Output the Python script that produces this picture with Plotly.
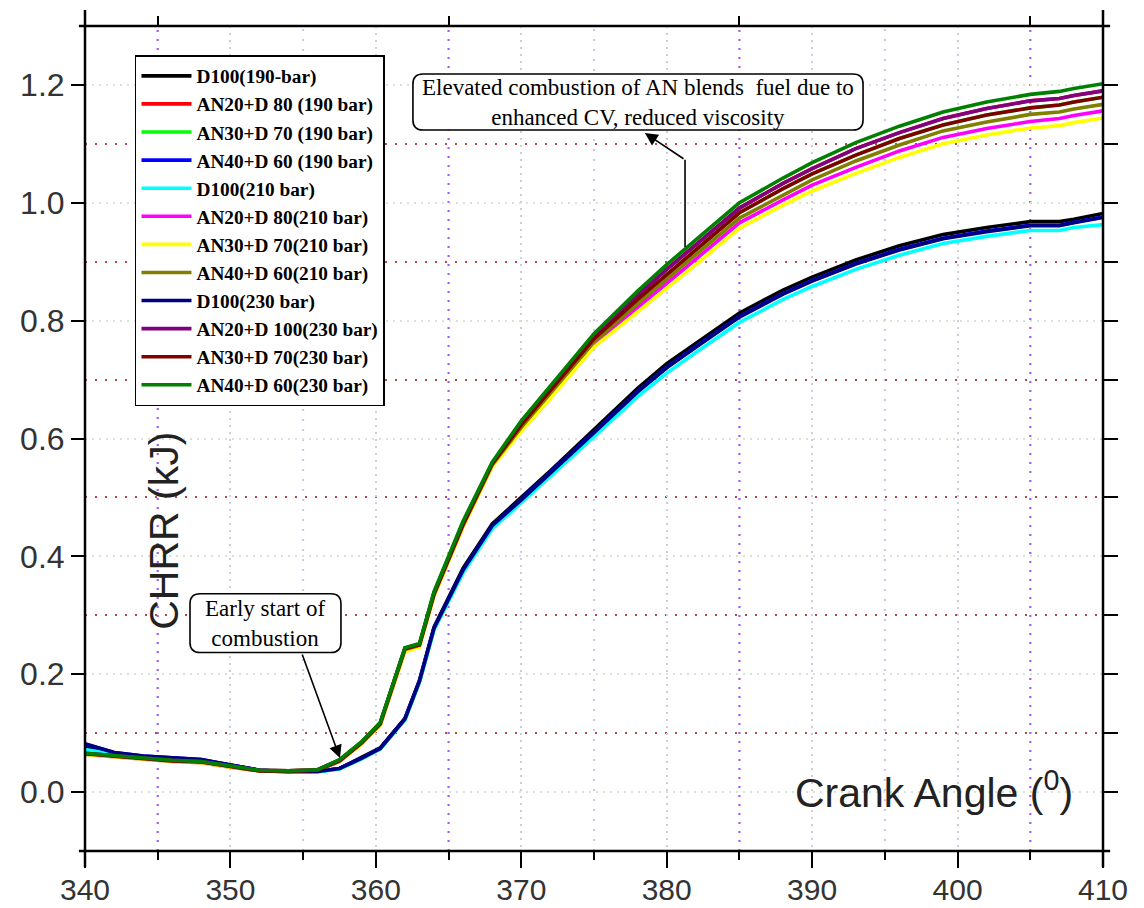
import plotly.graph_objects as go

# ---------------- data ----------------
crank_angle = [340, 342, 344, 346, 348, 350, 352, 354, 356, 357.5, 359, 360.3, 362, 363, 364, 366, 368,
               370, 372, 375, 378, 380, 382, 385, 388, 390, 393, 396, 399, 402, 405, 407, 408, 410]

d100_190 = [0.078, 0.066, 0.060, 0.057, 0.054, 0.046, 0.037, 0.035, 0.035, 0.040, 0.058, 0.075, 0.125, 0.190,
            0.280, 0.380, 0.455, 0.500, 0.545, 0.615, 0.685, 0.727, 0.762, 0.813, 0.852, 0.874, 0.903, 0.927,
            0.946, 0.958, 0.968, 0.968, 0.972, 0.982]
an20_190 = [0.066, 0.062, 0.057, 0.054, 0.052, 0.044, 0.037, 0.036, 0.038, 0.054, 0.084, 0.117, 0.244, 0.251,
            0.338, 0.457, 0.558, 0.626, 0.686, 0.773, 0.843, 0.887, 0.929, 0.991, 1.033, 1.058, 1.092, 1.119,
            1.143, 1.160, 1.173, 1.177, 1.182, 1.190]
an30_190 = [0.065, 0.061, 0.056, 0.053, 0.051, 0.043, 0.036, 0.035, 0.037, 0.053, 0.083, 0.116, 0.243, 0.250,
            0.336, 0.454, 0.557, 0.623, 0.681, 0.769, 0.836, 0.879, 0.920, 0.983, 1.024, 1.049, 1.081, 1.109,
            1.132, 1.149, 1.161, 1.166, 1.171, 1.179]
an40_190 = [0.081, 0.067, 0.061, 0.058, 0.055, 0.046, 0.037, 0.035, 0.035, 0.040, 0.057, 0.074, 0.124, 0.188,
            0.278, 0.377, 0.452, 0.497, 0.542, 0.611, 0.680, 0.721, 0.756, 0.807, 0.846, 0.868, 0.897, 0.921,
            0.940, 0.952, 0.962, 0.962, 0.967, 0.976]
d100_210 = [0.072, 0.064, 0.058, 0.055, 0.052, 0.044, 0.036, 0.034, 0.034, 0.039, 0.056, 0.073, 0.122, 0.186,
            0.275, 0.372, 0.447, 0.491, 0.535, 0.603, 0.671, 0.711, 0.746, 0.797, 0.836, 0.858, 0.887, 0.911,
            0.931, 0.943, 0.953, 0.953, 0.958, 0.963]
an20_210 = [0.064, 0.060, 0.055, 0.052, 0.050, 0.042, 0.036, 0.035, 0.037, 0.052, 0.082, 0.114, 0.240, 0.248,
            0.334, 0.452, 0.554, 0.616, 0.672, 0.760, 0.822, 0.863, 0.903, 0.966, 1.005, 1.030, 1.060, 1.088,
            1.111, 1.126, 1.138, 1.143, 1.148, 1.156]
an30_210 = [0.064, 0.060, 0.055, 0.052, 0.050, 0.042, 0.036, 0.035, 0.037, 0.052, 0.081, 0.113, 0.238, 0.246,
            0.332, 0.450, 0.552, 0.612, 0.668, 0.755, 0.815, 0.855, 0.895, 0.957, 0.996, 1.020, 1.050, 1.077,
            1.100, 1.115, 1.127, 1.131, 1.136, 1.144]
an40_210 = [0.065, 0.061, 0.056, 0.053, 0.051, 0.043, 0.036, 0.035, 0.037, 0.053, 0.083, 0.115, 0.242, 0.249,
            0.335, 0.453, 0.555, 0.619, 0.677, 0.764, 0.829, 0.871, 0.912, 0.974, 1.014, 1.039, 1.071, 1.098,
            1.122, 1.137, 1.150, 1.154, 1.159, 1.167]
d100_230 = [0.082, 0.067, 0.061, 0.058, 0.055, 0.046, 0.037, 0.035, 0.035, 0.040, 0.057, 0.074, 0.124, 0.188,
            0.278, 0.377, 0.452, 0.496, 0.541, 0.610, 0.679, 0.720, 0.755, 0.806, 0.845, 0.867, 0.896, 0.920,
            0.939, 0.951, 0.961, 0.961, 0.966, 0.975]
an20_230 = [0.066, 0.062, 0.057, 0.054, 0.052, 0.044, 0.037, 0.036, 0.038, 0.054, 0.084, 0.117, 0.244, 0.251,
            0.338, 0.457, 0.558, 0.626, 0.686, 0.773, 0.843, 0.887, 0.929, 0.991, 1.033, 1.058, 1.092, 1.119,
            1.143, 1.160, 1.173, 1.177, 1.182, 1.190]
an30_230 = [0.065, 0.061, 0.056, 0.053, 0.051, 0.043, 0.036, 0.035, 0.037, 0.053, 0.083, 0.116, 0.243, 0.250,
            0.336, 0.454, 0.557, 0.623, 0.681, 0.769, 0.836, 0.879, 0.920, 0.983, 1.024, 1.049, 1.081, 1.109,
            1.132, 1.149, 1.161, 1.166, 1.171, 1.179]
an40_230 = [0.066, 0.062, 0.057, 0.054, 0.052, 0.044, 0.037, 0.036, 0.038, 0.055, 0.085, 0.118, 0.245, 0.252,
            0.340, 0.460, 0.560, 0.630, 0.690, 0.778, 0.850, 0.895, 0.937, 1.000, 1.042, 1.068, 1.102, 1.130,
            1.154, 1.171, 1.184, 1.189, 1.194, 1.202]

series_names = ["D100(190-bar)", "AN20+D 80 (190 bar)", "AN30+D 70 (190 bar)", "AN40+D 60 (190 bar)",
                "D100(210 bar)", "AN20+D 80(210 bar)", "AN30+D 70(210 bar)", "AN40+D 60(210 bar)",
                "D100(230 bar)", "AN20+D 100(230 bar)", "AN30+D 70(230 bar)", "AN40+D 60(230 bar)"]
series_values = [d100_190, an20_190, an30_190, an40_190, d100_210, an20_210, an30_210, an40_210,
                 d100_230, an20_230, an30_230, an40_230]
series_colors = ["#000000", "#ff0000", "#00ff00", "#0000ff", "#00ffff", "#ff00ff", "#ffff00", "#808000",
                 "#000080", "#800080", "#800000", "#008000"]

x_ticks = [340, 350, 360, 370, 380, 390, 400, 410]
x_minor_ticks = [345, 355, 365, 375, 385, 395, 405]
y_ticks = [0.0, 0.2, 0.4, 0.6, 0.8, 1.0, 1.2]
y_ticklabels = ["0.0", "0.2", "0.4", "0.6", "0.8", "1.0", "1.2"]
y_minor_ticks = [0.1, 0.3, 0.5, 0.7, 0.9, 1.1]
y_right_ticks = [0.0, 0.1, 0.2, 0.3, 0.4, 0.5, 0.6, 0.7, 0.8, 0.9, 1.0, 1.1, 1.2]

# ---------------- figure ----------------
fig = go.Figure()

# vertical dotted grid (purple strong / faint)
for xv in [345, 365, 385, 405]:
    fig.add_shape(type="line", xref="x", yref="paper", x0=xv, x1=xv, y0=0, y1=1, layer="below",
                  line=dict(color="#a35cf5", width=2.2, dash="2px,7px"))
for xv in [355, 375, 395]:
    fig.add_shape(type="line", xref="x", yref="paper", x0=xv, x1=xv, y0=0, y1=1, layer="below",
                  line=dict(color="#cfc0f2", width=2, dash="2px,8px"))

for name, vals, col in zip(series_names, series_values, series_colors):
    fig.add_trace(go.Scatter(x=crank_angle, y=vals, mode="lines", name=name,
                             line=dict(color=col, width=3.6)))

# helper trace for secondary axes (top / right ticks)
fig.add_trace(go.Scatter(x=[340], y=[-0.1], xaxis="x2", yaxis="y2", mode="markers",
                         marker=dict(opacity=0), showlegend=False, hoverinfo="skip"))

fig.update_layout(
    width=1144, height=908,
    margin=dict(l=85, r=41, t=26, b=57, autoexpand=False),
    plot_bgcolor="white", paper_bgcolor="white",
    xaxis=dict(range=[340, 410], tickvals=x_ticks, ticks="outside", ticklen=16, tickwidth=2,
               tickcolor="black", showline=False, zeroline=False, automargin=False,
               ticklabelstandoff=-4,
               showgrid=True, gridcolor="#cdcddd", griddash="2px,5px", gridwidth=1.5,
               tickfont=dict(family="Liberation Sans, Arial", size=30, color="#333333"),
               minor=dict(tickvals=x_minor_ticks, ticks="outside", ticklen=8,
                          tickwidth=2, tickcolor="black", showgrid=False)),
    yaxis=dict(range=[-0.1, 1.3], tickvals=y_ticks, ticktext=y_ticklabels, ticks="outside", ticklen=13,
               tickwidth=2, tickcolor="black", showline=False, zeroline=False, automargin=False,
               showgrid=True, gridcolor="#d6e4d6", griddash="2px,5px", gridwidth=1.5,
               tickfont=dict(family="Liberation Sans, Arial", size=32, color="#333333"),
               minor=dict(tickvals=y_minor_ticks, ticks="", showgrid=True,
                          gridcolor="#b04a50", griddash="2px,8px", gridwidth=2.2)),
    xaxis2=dict(range=[340, 410], overlaying="x", side="top", anchor="y2", automargin=False,
                tickvals=[345, 365, 385, 405], ticks="outside", ticklen=9, tickwidth=2,
                tickcolor="black", showticklabels=False, showgrid=False, zeroline=False, showline=False),
    yaxis2=dict(range=[-0.1, 1.3], overlaying="y", side="right", anchor="x2", automargin=False,
                tickvals=y_right_ticks,
                ticks="outside", ticklen=14, tickwidth=2, tickcolor="black",
                showticklabels=False, showgrid=False, zeroline=False, showline=False),
    legend=dict(x=0.0491, y=0.9645, xanchor="left", yanchor="top", bgcolor="white",
                bordercolor="black", borderwidth=1.5, itemwidth=50, tracegroupgap=0,
                font=dict(family="Liberation Serif, Times New Roman", size=19.3, color="black",
                          weight="bold")),
    showlegend=True,
)

# frame with crossing corners
lw = 2.5
fig.add_shape(type="line", xref="paper", yref="paper", x0=0, x1=0, y0=-0.0194, y1=1.0194,
              line=dict(color="black", width=lw))
fig.add_shape(type="line", xref="paper", yref="paper", x0=1, x1=1, y0=-0.0194, y1=1.0194,
              line=dict(color="black", width=lw))
fig.add_shape(type="line", xref="paper", yref="paper", x0=-0.006, x1=1.007, y0=0, y1=0,
              line=dict(color="black", width=lw))
fig.add_shape(type="line", xref="paper", yref="paper", x0=-0.006, x1=1.007, y0=1, y1=1,
              line=dict(color="black", width=lw))


def rounded_box(x0, x1, y0, y1, rx, ry):
    return (f"M {x0+rx},{y0} L {x1-rx},{y0} Q {x1},{y0} {x1},{y0+ry} L {x1},{y1-ry} "
            f"Q {x1},{y1} {x1-rx},{y1} L {x0+rx},{y1} Q {x0},{y1} {x0},{y1-ry} "
            f"L {x0},{y0+ry} Q {x0},{y0} {x0+rx},{y0} Z")


rx, ry = 0.69, 0.017
fig.add_shape(type="path", xref="x", yref="y", path=rounded_box(362.55, 393.50, 1.1235, 1.2186, rx, ry),
              line=dict(color="black", width=1.6), fillcolor="white", layer="above")
fig.add_shape(type="path", xref="x", yref="y", path=rounded_box(347.22, 357.6, 0.2369, 0.3366, rx, ry),
              line=dict(color="black", width=1.6), fillcolor="white", layer="above")

ann_font = dict(family="Liberation Serif, Times New Roman", size=23, color="black")
fig.add_annotation(x=378.02, y=1.171, xref="x", yref="y", xanchor="center", yanchor="middle",
                   showarrow=False, font=ann_font,
                   text="Elevated combustion of AN blends  fuel due to<br>enhanced CV, reduced viscosity")
fig.add_annotation(x=352.4, y=0.2855, xref="x", yref="y", xanchor="center", yanchor="middle",
                   showarrow=False, font=ann_font,
                   text="Early start of<br>combustion")

# arrows
fig.add_shape(type="line", xref="x", yref="y", x0=381.26, x1=381.26, y0=0.925, y1=1.073,
              line=dict(color="black", width=1.6), layer="above")
fig.add_annotation(x=378.5, y=1.1184, ax=381.26, ay=1.073, xref="x", yref="y", axref="x", ayref="y",
                   text="", showarrow=True, arrowhead=2, arrowsize=1.6, arrowwidth=1.6, arrowcolor="black")
fig.add_annotation(x=357.53, y=0.0577, ax=354.9, ay=0.236, xref="x", yref="y", axref="x", ayref="y",
                   text="", showarrow=True, arrowhead=2, arrowsize=1.6, arrowwidth=1.6, arrowcolor="black")

# axis titles placed inside plot
fig.add_annotation(x=0.0775, y=0.388, xref="paper", yref="paper", xanchor="center", yanchor="middle",
                   showarrow=False, textangle=-90,
                   text="CHRR (kJ)", font=dict(family="Liberation Sans, Arial", size=41, color="#222222"))
fig.add_annotation(x=0.834, y=0.0739, xref="paper", yref="paper", xanchor="center", yanchor="middle",
                   showarrow=False,
                   text="Crank Angle (<sup>0</sup>)",
                   font=dict(family="Liberation Sans, Arial", size=41, color="#222222"))

fig.write_html("out.html")
